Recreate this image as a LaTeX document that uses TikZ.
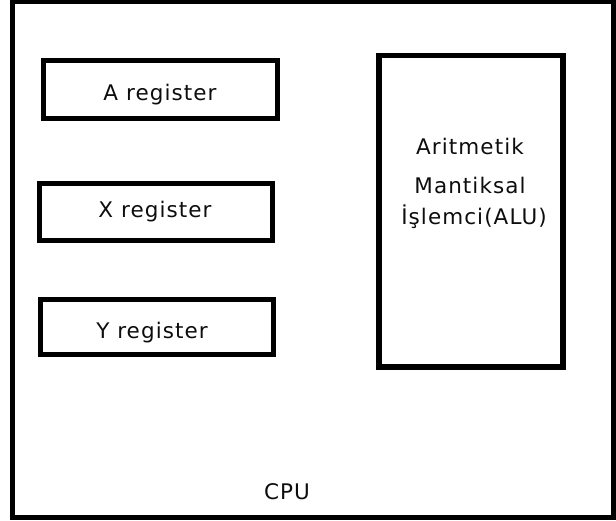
\documentclass[tikz,border=0pt]{standalone}
\usepackage{fontspec}
\setmainfont{DejaVu Sans}[LetterSpace=5]
\begin{document}
\begin{tikzpicture}[x=1pt,y=-1pt,
  frame/.style={draw=black,line width=5pt},
  regbox/.style={draw=black,line width=5pt,inner sep=0pt},
  alubox/.style={draw=black,line width=5.2pt,inner sep=0pt},
  lbl/.style={font=\fontsize{21.5}{25}\selectfont,inner sep=0pt,anchor=base,text=black!95}]
\useasboundingbox (0,0) rectangle (616,521);
% CPU enclosure
\draw[frame] (12.5,2) rectangle (613.5,517);
% registers
\node[regbox,minimum width=234.5pt,minimum height=58.5pt] (areg) at (160.25,89.75) {};
\node[regbox,minimum width=233pt,minimum height=57pt] (xreg) at (156,212.5) {};
\node[regbox,minimum width=232.5pt,minimum height=55pt] (yreg) at (156.75,327) {};
% arithmetic logic unit
\node[alubox,minimum width=184pt,minimum height=311.5pt] (alu) at (471,211.25) {};
% labels
\node[lbl] (alab) at (160,100.7) {A register};
\node[lbl] (xlab) at (155,218) {X register};
\node[lbl] (ylab) at (152,338.3) {Y register};
\node[lbl] (alu1) at (470,155) {Aritmetik};
\node[lbl] (alu2) at (470,193.3) {Mantiksal};
\node[lbl] (alu3) at (474,224.3) {İşlemci(ALU)};
\node[lbl] (cpu) at (287,499.3) {CPU};
\end{tikzpicture}
\end{document}
